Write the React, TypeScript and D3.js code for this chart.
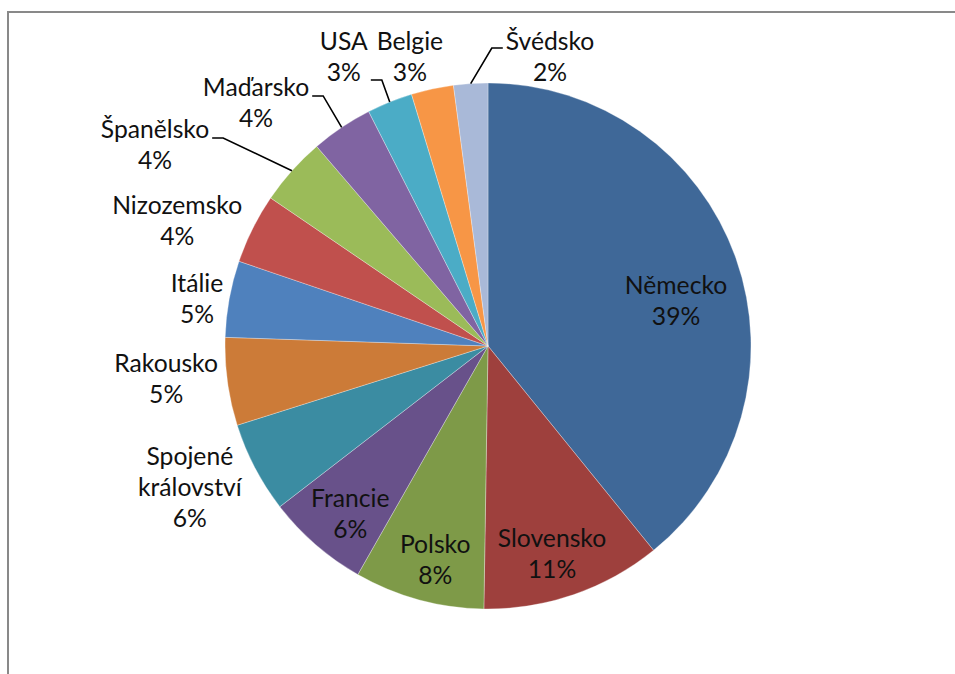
import { useEffect, useRef } from "react";
import * as d3 from "d3";

// podíly zemí (v %), po směru hodinových ručiček od 12 hodin
const countries = [
  "Německo",
  "Slovensko",
  "Polsko",
  "Francie",
  "Spojené království",
  "Rakousko",
  "Itálie",
  "Nizozemsko",
  "Španělsko",
  "Maďarsko",
  "USA",
  "Belgie",
  "Švédsko",
];
const shares = [39.2, 11.1, 8.0, 6.3, 5.6, 5.4, 4.7, 4.3, 4.2, 3.8, 2.8, 2.6, 2.1];
const colors = [
  "#3f6898",
  "#9e403d",
  "#7e9a48",
  "#68518a",
  "#3b8ca2",
  "#cc7b38",
  "#4f81bd",
  "#c0504d",
  "#9bbb59",
  "#8064a2",
  "#4bacc6",
  "#f79646",
  "#a9b9d8",
];

// umístění popisků: posun úhlu od středu výseče (stupně) a vzdálenost (násobek poloměru)
const labelShift = [5.8, 1.9, -1.4, -1.6, 2.3, 2.1, -1.1, -4.6, -10.7, -9.8, -4.6, -2.9, 15.9];
const labelDist = [0.736, 0.825, 0.837, 0.825, 1.254, 1.23, 1.121, 1.274, 1.479, 1.279, 1.228, 1.138, 1.124];
// vodicí čáry jen u některých popisků (svislý posun připojení od středu popisku)
const leaderDy: (number | null)[] = [null, null, null, null, null, null, null, null, -7, -6.5, 23, null, -9];

function PieChart({ width = 955, height = 674 }) {
  const svgRef = useRef<SVGSVGElement>(null);

  useEffect(() => {
    document.body.style.margin = "0";
    const svg = d3.select(svgRef.current);
    svg.selectAll("*").remove();

    // rámeček grafu
    svg
      .append("rect")
      .attr("x", 8)
      .attr("y", 12)
      .attr("width", width + 40)
      .attr("height", height + 40)
      .attr("fill", "#fff")
      .attr("stroke", "#898989")
      .attr("stroke-width", 2);

    const cx = 488,
      cy = 346,
      r = 263,
      lineH = 31;
    const total = d3.sum(shares);

    const pie = d3.pie<number>().sort(null).value((d) => d);
    const arcs = pie(shares);
    const arc = d3.arc<d3.PieArcDatum<number>>().innerRadius(0).outerRadius(r);

    const g = svg.append("g").attr("transform", `translate(${cx},${cy})`);

    g.selectAll("path.slice")
      .data(arcs)
      .enter()
      .append("path")
      .attr("class", "slice")
      .attr("d", arc)
      .attr("fill", (d, i) => colors[i])
      .attr("stroke", "#fff")
      .attr("stroke-width", 0.6)
      .attr("stroke-opacity", 0.5);

    const polar = (a: number, rad: number) => [Math.sin(a) * rad, -Math.cos(a) * rad];

    arcs.forEach((d, i) => {
      const mid = (d.startAngle + d.endAngle) / 2;
      const [lx, ly] = polar(mid + (labelShift[i] * Math.PI) / 180, labelDist[i] * r);
      const lines = [...countries[i].split(" "), `${Math.round((d.value / total) * 100)}%`];

      const t = g
        .append("text")
        .attr("text-anchor", "middle")
        .attr("font-family", "Lato, 'Open Sans', sans-serif")
        .attr("font-size", 24.7)
        .attr("fill", "#111");
      lines.forEach((s, k) => {
        t.append("tspan")
          .attr("x", lx)
          .attr("y", ly + (k - (lines.length - 1) / 2) * lineH)
          .attr("dy", "0.36em")
          .text(s);
      });

      const dy = leaderDy[i];
      if (dy != null) {
        const bw = (t.node() as SVGTextElement).getBBox().width;
        const side = lx < 0 ? 1 : -1;
        const ax = lx + side * (bw / 2 + 3);
        const ay = ly + dy;
        const [sx, sy] = polar(mid, r);
        g.append("path")
          .attr("d", `M${sx},${sy}L${ax + side * 11},${ay}L${ax},${ay}`)
          .attr("fill", "none")
          .attr("stroke", "#000")
          .attr("stroke-width", 1.6);
      }
    });
  }, []);

  return <svg ref={svgRef} width={width} height={height} style={{ display: "block" }}></svg>;
}

export default function App() {
  return <PieChart />;
}
